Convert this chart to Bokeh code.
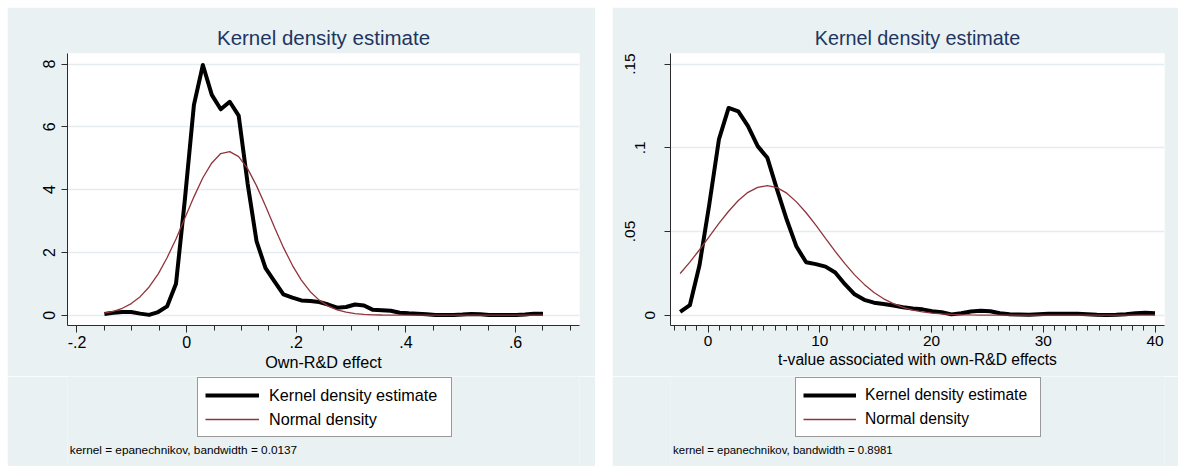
import math
from bokeh.plotting import figure
from bokeh.models import (Range1d, FixedTicker, Label, Legend, LegendItem, Spacer)
from bokeh.layouts import row, column
from bokeh.embed import file_html
from bokeh.resources import INLINE

# ---------------- data ----------------
rd_x = [-0.15, -0.1337, -0.1173, -0.101, -0.0847, -0.0684, -0.052, -0.0357, -0.0194, -0.0031,
        0.0133, 0.0296, 0.0459, 0.0622, 0.0786, 0.0949, 0.1112, 0.1276, 0.1439, 0.1602,
        0.1765, 0.1929, 0.2092, 0.2255, 0.2418, 0.2582, 0.2745, 0.2908, 0.3071, 0.3235,
        0.3398, 0.3561, 0.3724, 0.3888, 0.4051, 0.4214, 0.4378, 0.4541, 0.4704, 0.4867,
        0.5031, 0.5194, 0.5357, 0.552, 0.5684, 0.5847, 0.601, 0.6173, 0.6337, 0.65]
rd_kde = [0.04, 0.08, 0.10, 0.10, 0.05, 0.01, 0.10, 0.28, 1.0, 3.7,
          6.7, 7.97, 7.02, 6.56, 6.8, 6.36, 4.2, 2.35, 1.5, 1.08,
          0.66, 0.56, 0.47, 0.45, 0.42, 0.34, 0.24, 0.26, 0.34, 0.31,
          0.17, 0.16, 0.14, 0.08, 0.06, 0.05, 0.03, 0.01, 0.01, 0.01,
          0.02, 0.04, 0.03, 0.01, 0.01, 0.01, 0.01, 0.02, 0.05, 0.05]
rd_normal = [0.068, 0.125, 0.22, 0.37, 0.59, 0.90, 1.31, 1.83, 2.43, 3.10,
             3.77, 4.38, 4.85, 5.15, 5.21, 5.05, 4.67, 4.12, 3.48, 2.80,
             2.16, 1.59, 1.12, 0.75, 0.48, 0.29, 0.17, 0.097, 0.052, 0.026,
             0.013, 0.006, 0.003, 0.001, 0.0005, 0, 0, 0, 0, 0,
             0, 0, 0, 0, 0, 0, 0, 0, 0, 0]

t_x = [-2.5, -1.633, -0.765, 0.102, 0.969, 1.837, 2.704, 3.571, 4.439, 5.306,
       6.173, 7.041, 7.908, 8.776, 9.643, 10.51, 11.378, 12.245, 13.112, 13.98,
       14.847, 15.714, 16.582, 17.449, 18.316, 19.184, 20.051, 20.918, 21.786, 22.653,
       23.52, 24.388, 25.255, 26.122, 26.99, 27.857, 28.724, 29.592, 30.459, 31.327,
       32.194, 33.061, 33.929, 34.796, 35.663, 36.531, 37.398, 38.265, 39.133, 40.0]
t_kde = [0.002, 0.006, 0.030, 0.066, 0.105, 0.1238, 0.1218, 0.113, 0.101, 0.094,
         0.075, 0.057, 0.041, 0.0316, 0.0305, 0.029, 0.0255, 0.0185, 0.0125, 0.0092,
         0.0075, 0.0067, 0.0058, 0.0048, 0.0040, 0.0035, 0.0024, 0.0018, 0.0005, 0.0012,
         0.0022, 0.0027, 0.0024, 0.0012, 0.0006, 0.0004, 0.0003, 0.0006, 0.0008, 0.0008,
         0.0008, 0.0008, 0.0006, 0.0002, 0.0001, 0.0002, 0.0006, 0.0012, 0.0014, 0.0012]
t_normal = [0.0249, 0.0317, 0.0391, 0.0470, 0.0548, 0.0621, 0.0685, 0.0734, 0.0764, 0.0774,
            0.0762, 0.0729, 0.0677, 0.0612, 0.0538, 0.0459, 0.0381, 0.0308, 0.0241, 0.0184,
            0.0136, 0.0098, 0.0069, 0.0047, 0.0031, 0.0020, 0.0012, 0.00076, 0.00045, 0.00026,
            0.00014, 0.00007, 0, 0, 0, 0, 0, 0, 0, 0,
            0, 0, 0, 0, 0, 0, 0, 0, 0, 0]

left_xticks = [-0.2, 0, 0.2, 0.4, 0.6]
left_xtick_labels = ["-.2", "0", ".2", ".4", ".6"]
left_xminor = [-0.15, -0.1, -0.05, 0.05, 0.1, 0.15, 0.25, 0.3, 0.35,
               0.45, 0.5, 0.55, 0.65, 0.7]
left_yticks = [0, 2, 4, 6, 8]
left_ytick_labels = ["0", "2", "4", "6", "8"]

right_xticks = [0, 10, 20, 30, 40]
right_xtick_labels = ["0", "10", "20", "30", "40"]
right_xminor = [t for t in range(-3, 41) if t % 10 != 0]
right_yticks = [0, 0.05, 0.1, 0.15]
right_ytick_labels = ["0", ".05", ".1", ".15"]

title_text = "Kernel density estimate"
legend_labels = ["Kernel density estimate", "Normal density"]

# ---------------- styles ----------------
BG = "#e9f1f3"
GRID = "#e4ecef"
AX = "#2b2b2b"
NAVY = "#1e3560"
MAROON = "#90353b"
FONT = "Liberation Sans"
H_TOP = 369       # chart figure (title, frame, axes)
H_BOT = 90        # legend + note strip
FRAME_H = 272
MB_TOP = 46


def panel(W, mbl, mbr, xr, yr, xs, kde, nrm, xt, xtl, xminor, yt, ytl,
          xlabel, note, sc, leg_x, leg_lw, leg_glyph, leg_standoff, note_x):
    p = figure(width=W, height=H_TOP, x_range=Range1d(*xr), y_range=Range1d(*yr),
               output_backend="svg", toolbar_location=None,
               min_border_left=mbl, min_border_right=mbr,
               min_border_top=MB_TOP, min_border_bottom=H_TOP - MB_TOP - FRAME_H)
    p.background_fill_color = "white"
    p.border_fill_color = BG
    p.outline_line_color = None

    p.title.text = title_text
    p.title.align = "center"
    p.title.text_font = FONT
    p.title.text_font_size = f"{20.5 * sc:.1f}px"
    p.title.text_font_style = "normal"
    p.title.text_color = NAVY
    p.title.standoff = 9

    p.xgrid.visible = False
    p.ygrid.ticker = FixedTicker(ticks=yt)
    p.ygrid.grid_line_color = GRID
    p.ygrid.grid_line_width = 1.6

    xa = p.xaxis[0]
    xa.ticker = FixedTicker(ticks=xt, minor_ticks=xminor)
    xa.major_label_overrides = {t: l for t, l in zip(xt, xtl)}
    ya = p.yaxis[0]
    ya.ticker = FixedTicker(ticks=yt, minor_ticks=[])
    # longer labels sit further from the axis in the reference: pad with empty lines
    ya.major_label_overrides = {t: l + "\n" * (len(l) - 1) for t, l in zip(yt, ytl)}
    ya.major_label_text_line_height = 0.6
    for ax in (xa, ya):
        ax.axis_line_color = AX
        ax.axis_line_width = 1
        ax.major_tick_line_color = AX
        ax.minor_tick_line_color = AX
        ax.major_tick_in = 0
        ax.minor_tick_in = 0
    xa.major_tick_out = 7
    xa.minor_tick_out = 5
    xa.major_label_text_font = FONT
    xa.major_label_text_font_size = f"{16 * sc:.1f}px"
    xa.major_label_text_color = "black"
    xa.major_label_standoff = 3
    xa.axis_label = xlabel
    xa.axis_label_text_font = FONT
    xa.axis_label_text_font_style = "normal"
    xa.axis_label_text_font_size = f"{16.2 * sc:.1f}px"
    xa.axis_label_text_color = "black"
    xa.axis_label_standoff = 2
    ya.major_tick_out = 6
    ya.minor_tick_out = 0
    ya.major_label_orientation = "vertical"
    ya.major_label_standoff = 6
    ya.major_label_text_font = FONT
    ya.major_label_text_font_size = f"{16 * sc:.1f}px"
    ya.major_label_text_color = "black"

    p.line(xs, kde, line_color="black", line_width=4, line_join="round")
    p.line(xs, nrm, line_color=MAROON, line_width=1.3)

    # ---- strip below: legend and note (frame aligned with the chart frame) ----
    b = figure(width=W, height=H_BOT, x_range=Range1d(0, W - mbl - mbr),
               y_range=Range1d(0, H_BOT),
               output_backend="svg", toolbar_location=None,
               x_axis_type=None, y_axis_type=None,
               min_border_left=mbl, min_border_right=mbr, min_border_top=0, min_border_bottom=0)
    b.background_fill_color = BG
    b.border_fill_color = BG
    b.outline_line_color = None
    b.xgrid.visible = False
    b.ygrid.visible = False
    # legend proxies (hidden): same styles as the chart lines
    k1 = b.line(xs, kde, line_color="black", line_width=4, visible=False)
    k2 = b.line(xs, nrm, line_color=MAROON, line_width=1.3, visible=False)
    leg = Legend(items=[LegendItem(label=legend_labels[0], renderers=[k1]),
                        LegendItem(label=legend_labels[1], renderers=[k2])],
                 location=(leg_x, 29), orientation="vertical",
                 padding=7, spacing=4, margin=0,
                 glyph_width=leg_glyph, glyph_height=20, label_height=20,
                 label_width=leg_lw, label_standoff=leg_standoff,
                 label_text_font=FONT, label_text_font_size=f"{16.2 * sc:.1f}px",
                 label_text_color="black",
                 border_line_color="#333333", border_line_width=1.2,
                 background_fill_color="white", background_fill_alpha=1.0,
                 inactive_fill_alpha=0.0)
    b.add_layout(leg)
    b.add_layout(Label(x=note_x, y=17, x_units="screen", y_units="screen",
                       text=note, text_align="left",
                       text_baseline="alphabetic", text_font=FONT,
                       text_font_size=f"{11.8 * sc:.1f}px", text_color="black"))
    return column(p, b, spacing=0)


c1 = panel(588, 60, 16, (-0.2173, 0.7166), (-0.328, 8.337), rd_x, rd_kde, rd_normal,
           left_xticks, left_xtick_labels, left_xminor, left_yticks, left_ytick_labels,
           "Own-R&D effect", "kernel = epanechnikov, bandwidth = 0.0137", 1.0,
           130, 175, 54, 10, 2.3)
c2 = panel(566, 58, 14, (-3.365, 40.85), (-0.00615, 0.15633), t_x, t_kde, t_normal,
           right_xticks, right_xtick_labels, right_xminor, right_yticks, right_ytick_labels,
           "t-value associated with own-R&D effects",
           "kernel = epanechnikov, bandwidth = 0.8981", 0.965,
           125, 168, 53, 9, 2.6)

layout = column(Spacer(width=1178, height=7),
                row(Spacer(width=7, height=H_TOP + H_BOT), c1,
                    Spacer(width=17, height=H_TOP + H_BOT), c2),
                spacing=0)
open("out.html", "w").write(file_html(layout, INLINE))
